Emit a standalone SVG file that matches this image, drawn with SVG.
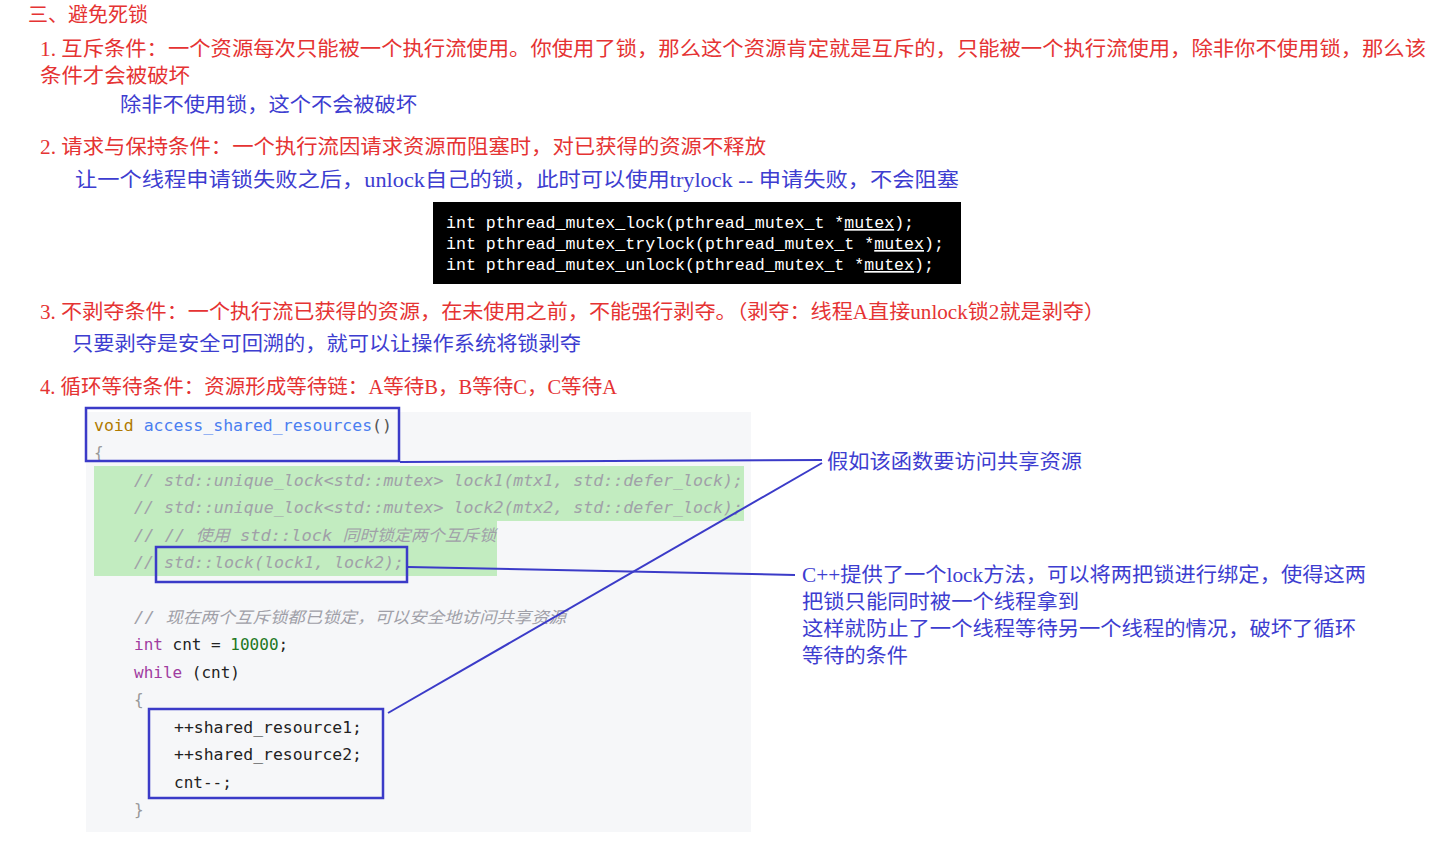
<svg xmlns="http://www.w3.org/2000/svg" width="1435" height="850" viewBox="0 0 1435 850">
<style>
.r{font-family:"Liberation Serif","Noto Sans CJK SC",serif;font-size:20px;fill:#e53333}
.b{font-family:"Liberation Serif","Noto Sans CJK SC",serif;font-size:20px;fill:#3d3dd0}
.m{font-family:"DejaVu Sans Mono","Noto Sans CJK SC",monospace;font-size:16px}
.c{fill:#a0a0a8;font-style:italic}
.k{fill:#222}
.box{fill:none;stroke:#3b3bc8;stroke-width:2.5}
.ln{fill:none;stroke:#3b3bc8;stroke-width:2}
</style>
<rect width="1435" height="850" fill="#fff"/>
<g id="text">
<text class="r" x="28" y="22">三、避免死锁</text>
<text class="r" x="40" y="56" textLength="1386" lengthAdjust="spacingAndGlyphs">1. 互斥条件：一个资源每次只能被一个执行流使用。你使用了锁，那么这个资源肯定就是互斥的，只能被一个执行流使用，除非你不使用锁，那么该</text>
<text class="r" x="40" y="83" textLength="150" lengthAdjust="spacingAndGlyphs">条件才会被破坏</text>
<text class="b" x="120" y="112" textLength="297" lengthAdjust="spacingAndGlyphs">除非不使用锁，这个不会被破坏</text>
<text class="r" x="40" y="154" textLength="726" lengthAdjust="spacingAndGlyphs">2. 请求与保持条件：一个执行流因请求资源而阻塞时，对已获得的资源不释放</text>
<text class="b" x="75" y="187" textLength="884" lengthAdjust="spacingAndGlyphs">让一个线程申请锁失败之后，unlock自己的锁，此时可以使用trylock -- 申请失败，不会阻塞</text>
<text class="r" x="40" y="319" textLength="1065" lengthAdjust="spacingAndGlyphs">3. 不剥夺条件：一个执行流已获得的资源，在未使用之前，不能强行剥夺。（剥夺：线程A直接unlock锁2就是剥夺）</text>
<text class="b" x="72" y="351" textLength="509" lengthAdjust="spacingAndGlyphs">只要剥夺是安全可回溯的，就可以让操作系统将锁剥夺</text>
<text class="r" x="40" y="394" textLength="577" lengthAdjust="spacingAndGlyphs">4. 循环等待条件：资源形成等待链：A等待B，B等待C，C等待A</text>
</g>
<g id="pthread">
<rect x="433" y="202" width="528" height="82" fill="#000"/>
<g fill="#fff" style="font-family:'Liberation Mono',monospace;font-size:16.6px">
<text x="446" y="228">int pthread_mutex_lock(pthread_mutex_t *<tspan text-decoration="underline">mutex</tspan>);</text>
<text x="446" y="249">int pthread_mutex_trylock(pthread_mutex_t *<tspan text-decoration="underline">mutex</tspan>);</text>
<text x="446" y="270">int pthread_mutex_unlock(pthread_mutex_t *<tspan text-decoration="underline">mutex</tspan>);</text>
</g>
</g>
<g id="code">
<rect x="86" y="412" width="665" height="420" fill="#f6f7f9"/>
<rect x="94" y="466" width="650" height="55" fill="#c2ecc0"/>
<rect x="94" y="521" width="403" height="55" fill="#c2ecc0"/>
<g class="m">
<text x="94" y="431" textLength="298" lengthAdjust="spacingAndGlyphs"><tspan fill="#b07a00">void</tspan> <tspan fill="#4a7ef0">access_shared_resources</tspan><tspan fill="#555">()</tspan></text>
<text x="94" y="458" fill="#999">{</text>
<text x="134" y="486" class="c" textLength="609" lengthAdjust="spacingAndGlyphs">// std::unique_lock&lt;std::mutex&gt; lock1(mtx1, std::defer_lock);</text>
<text x="134" y="513" class="c" textLength="609" lengthAdjust="spacingAndGlyphs">// std::unique_lock&lt;std::mutex&gt; lock2(mtx2, std::defer_lock);</text>
<text x="134" y="541" class="c" textLength="362" lengthAdjust="spacingAndGlyphs">// // 使用 std::lock 同时锁定两个互斥锁</text>
<text x="134" y="568" class="c" textLength="270" lengthAdjust="spacingAndGlyphs">// std::lock(lock1, lock2);</text>
<text x="134" y="623" class="c" textLength="432" lengthAdjust="spacingAndGlyphs">// 现在两个互斥锁都已锁定，可以安全地访问共享资源</text>
<text x="134" y="650"><tspan fill="#a03ca0">int</tspan><tspan class="k"> cnt = </tspan><tspan fill="#227722">10000</tspan><tspan class="k">;</tspan></text>
<text x="134" y="678"><tspan fill="#a03ca0">while</tspan><tspan class="k"> (cnt)</tspan></text>
<text x="134" y="705" fill="#999">{</text>
<text x="174" y="733" class="k" textLength="188" lengthAdjust="spacingAndGlyphs">++shared_resource1;</text>
<text x="174" y="760" class="k" textLength="188" lengthAdjust="spacingAndGlyphs">++shared_resource2;</text>
<text x="174" y="788" class="k">cnt--;</text>
<text x="134" y="815" fill="#999">}</text>
</g>
</g>
<g id="boxes">
<rect class="box" x="86" y="408" width="313" height="53"/>
<rect class="box" x="156" y="547" width="251" height="35"/>
<rect class="box" x="149" y="709" width="234" height="89"/>
</g>
<g id="connectors">
<polyline class="ln" points="400,462 822,460"/>
<polyline class="ln" points="388,713 822,463"/>
<polyline class="ln" points="408,567 795,575"/>
</g>
<g id="notes">
<text class="b" x="827" y="469" textLength="255" lengthAdjust="spacingAndGlyphs">假如该函数要访问共享资源</text>
<text class="b" x="802" y="582" textLength="564" lengthAdjust="spacingAndGlyphs">C++提供了一个lock方法，可以将两把锁进行绑定，使得这两</text>
<text class="b" x="802" y="609" textLength="277" lengthAdjust="spacingAndGlyphs">把锁只能同时被一个线程拿到</text>
<text class="b" x="802" y="636" textLength="554" lengthAdjust="spacingAndGlyphs">这样就防止了一个线程等待另一个线程的情况，破坏了循环</text>
<text class="b" x="802" y="663" textLength="106" lengthAdjust="spacingAndGlyphs">等待的条件</text>
</g>
</svg>
